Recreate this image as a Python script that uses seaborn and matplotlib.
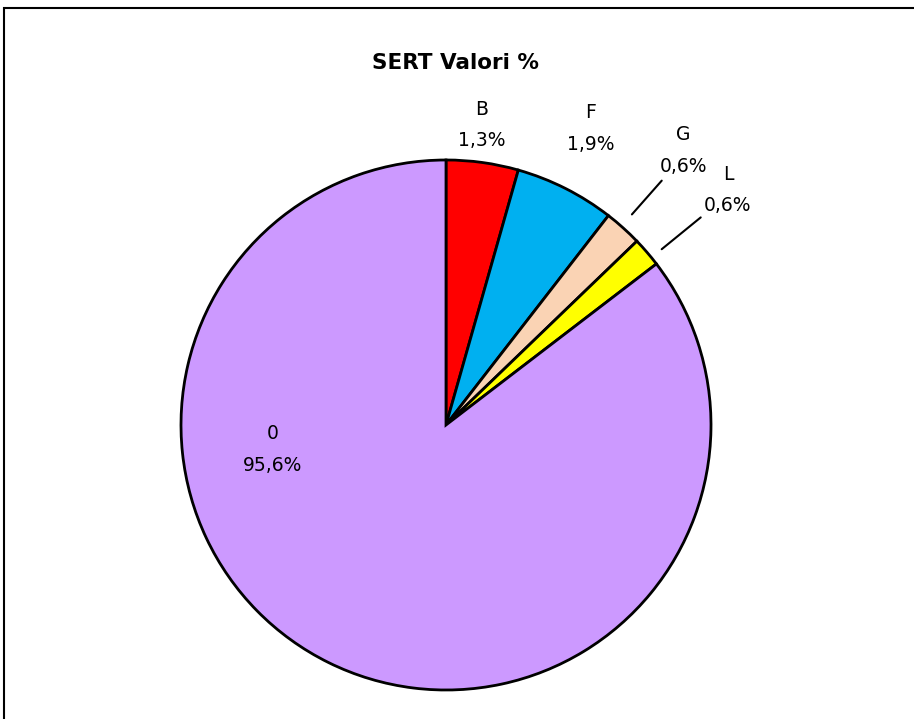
import numpy as np
import matplotlib
matplotlib.use("Agg")
import matplotlib.pyplot as plt
import seaborn as sns
from matplotlib.patches import Rectangle

sns.set_style("white")
plt.rcParams['font.family'] = ['DejaVu Sans']
plt.rcParams['text.color'] = 'black'

# dati
categorie = ['B', 'F', 'G', 'L', '0']
quote = [4.4, 6.1, 2.3, 1.8, 85.4]          # ampiezza delle fette come disegnate
etichette_pct = ['1,3%', '1,9%', '0,6%', '0,6%', '95,6%']
colori = sns.color_palette(['#FF0000', '#00B0F0', '#FAD3B4', '#FFFF00', '#CC99FF'])

fig = plt.figure(figsize=(9.14, 7.19), dpi=100)
# pie center at (446, 425) px, radius 265 px
cx, cy, r = 446, 425, 265
W, H = 914, 719
ax = fig.add_axes([(cx - r) / W, (H - cy - r) / H, 2 * r / W, 2 * r / H])

wedges, testi = ax.pie(quote, colors=colori, startangle=90, counterclock=False,
                       labels=[c + '\n' + p for c, p in zip(categorie, etichette_pct)],
                       labeldistance=1.2,
                       wedgeprops=dict(edgecolor='black', linewidth=2))
ax.set_xlim(-1, 1)
ax.set_ylim(-1, 1)

# posizione etichette: (raggio, angolo in gradi)
pos_etichette = [(1.14, 83.2), (1.245, 64.0), (1.37, 49.2), (1.385, 39.8), (0.66, 188.0)]
for t, (rr, aa) in zip(testi, pos_etichette):
    a = np.deg2rad(aa)
    t.set_position((rr * np.cos(a), rr * np.sin(a)))
    t.set_ha('center')
    t.set_va('center')
    t.set_fontsize(13.5)
    t.set_color('black')
    t.set_linespacing(1.85)

# linee guida per G e L
for i, (r0, r1), da in [(2, (1.06, 1.23), 0.5), (3, (1.05, 1.24), -1.5)]:
    w = wedges[i]
    a = np.deg2rad((w.theta1 + w.theta2) / 2 + da)
    ax.plot([r0 * np.cos(a), r1 * np.cos(a)], [r0 * np.sin(a), r1 * np.sin(a)],
            color='black', lw=1.5, clip_on=False)

fig.text(455 / W, 1 - 63 / H, 'SERT Valori %', ha='center', va='center',
         fontsize=15.5, fontweight='bold', color='black')

fig.patches.append(Rectangle((4 / W, -0.05), 1.2, 1 - 8 / H + 0.05,
                             transform=fig.transFigure, fill=False,
                             edgecolor='black', linewidth=1.5))

fig.savefig('out.png', dpi=100)
